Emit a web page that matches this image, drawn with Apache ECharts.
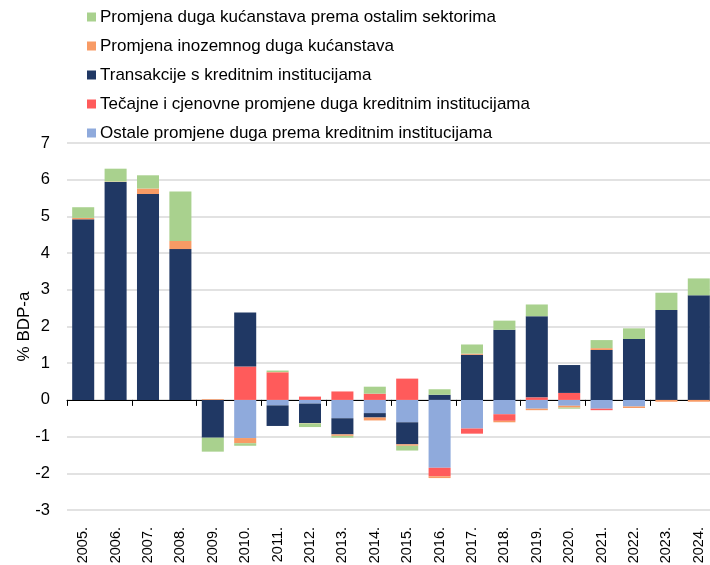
<!DOCTYPE html>
<html>
<head>
<meta charset="utf-8">
<script src="https://cdn.jsdelivr.net/npm/echarts@6/dist/echarts.min.js"></script>
<style>
html,body{margin:0;padding:0;background:#fff;}
#c{width:710px;height:565px;}
</style>
</head>
<body>
<div id="c"></div>
<script>
const years = ['2005.','2006.','2007.','2008.','2009.','2010.','2011.','2012.','2013.','2014.','2015.','2016.','2017.','2018.','2019.','2020.','2021.','2022.','2023.','2024.'];
const yTicks = [-3,-2,-1,0,1,2,3,4,5,6,7];

const ostalePromjene = [0,0,0,0,0,-1.04,-0.15,-0.10,-0.50,-0.36,-0.61,-1.85,-0.78,-0.39,-0.24,-0.16,-0.24,-0.18,0,0];
const tecajnePromjene = [0,0,0,0,0,0.91,0.75,0.09,0.23,0.17,0.58,-0.23,-0.14,-0.18,0.07,0.19,-0.04,0,0,0];
const transakcije = [4.92,5.94,5.61,4.11,-1.03,1.47,-0.56,-0.53,-0.44,-0.12,-0.60,0.14,1.23,1.91,2.21,0.76,1.36,1.66,2.45,2.85];
const inozemniDug = [0.04,0.01,0.15,0.22,0.02,-0.14,0.01,-0.01,-0.04,-0.08,-0.04,-0.05,0.03,-0.04,-0.04,-0.05,0.05,-0.04,-0.05,-0.05];
const ostaliSektori = [0.29,0.35,0.36,1.35,-0.38,-0.07,0.04,-0.10,-0.05,0.19,-0.13,0.15,0.25,0.25,0.32,-0.03,0.22,0.29,0.47,0.46];

const names = {
  green: 'Promjena duga kućanstava prema ostalim sektorima',
  orange: 'Promjena inozemnog duga kućanstava',
  navy: 'Transakcije s kreditnim institucijama',
  red: 'Tečajne i cjenovne promjene duga kreditnim institucijama',
  blue: 'Ostale promjene duga prema kreditnim institucijama'
};

const font = 'Liberation Sans, Arial, sans-serif';
function bar(name, data, color) {
  return {
    name: name, type: 'bar', stack: 'total', data: data,
    xAxisIndex: 0, barWidth: '68%',
    itemStyle: { color: color },
    emphasis: { disabled: true }
  };
}

const chart = echarts.init(document.getElementById('c'), null, {renderer: 'canvas'});
chart.setOption({
  animation: false,
  textStyle: { fontFamily: font },
  legend: {
    orient: 'vertical', left: 82, top: 2,
    itemWidth: 9, itemHeight: 9, itemGap: 9,
    icon: 'rect',
    textStyle: { fontSize: 17, color: '#000', fontFamily: font, lineHeight: 20, padding: [0,0,0,-1] },
    data: [names.green, names.orange, names.navy, names.red, names.blue]
  },
  grid: { left: 67, top: 143, width: 648, height: 367, containLabel: false, outerBoundsMode: 'none' },
  xAxis: [
    {
      type: 'category', data: years, position: 'bottom',
      axisLine: { onZero: true, lineStyle: { color: '#000', width: 1 } },
      axisTick: { show: true, length: 6, lineStyle: { color: '#000' } },
      axisLabel: { show: false },
      splitLine: { show: false }
    },
    {
      type: 'category', data: years, position: 'bottom',
      axisLine: { show: false, onZero: false },
      axisTick: { show: false },
      axisLabel: { show: true, rotate: 90, fontSize: 14.5, color: '#000', margin: 17, fontFamily: font },
      splitLine: { show: false }
    }
  ],
  yAxis: {
    type: 'value', min: yTicks[0], max: yTicks[yTicks.length-1], interval: 1,
    name: '% BDP-a', nameLocation: 'middle', nameGap: 34, nameRotate: 90, nameMoveOverlap: false,
    nameTextStyle: { fontSize: 17, color: '#000', fontFamily: font },
    axisLine: { show: false }, axisTick: { show: false },
    axisLabel: { fontSize: 16.5, color: '#000', margin: 17, fontFamily: font },
    splitLine: { lineStyle: { color: '#d9d9d9', width: 1.5 } }
  },
  series: [
    bar(names.blue, ostalePromjene, '#8faadc'),
    bar(names.red, tecajnePromjene, '#ff5b5b'),
    bar(names.navy, transakcije, '#203864'),
    bar(names.orange, inozemniDug, '#f89b65'),
    bar(names.green, ostaliSektori, '#a9d18e')
  ]
});
</script>
</body>
</html>
